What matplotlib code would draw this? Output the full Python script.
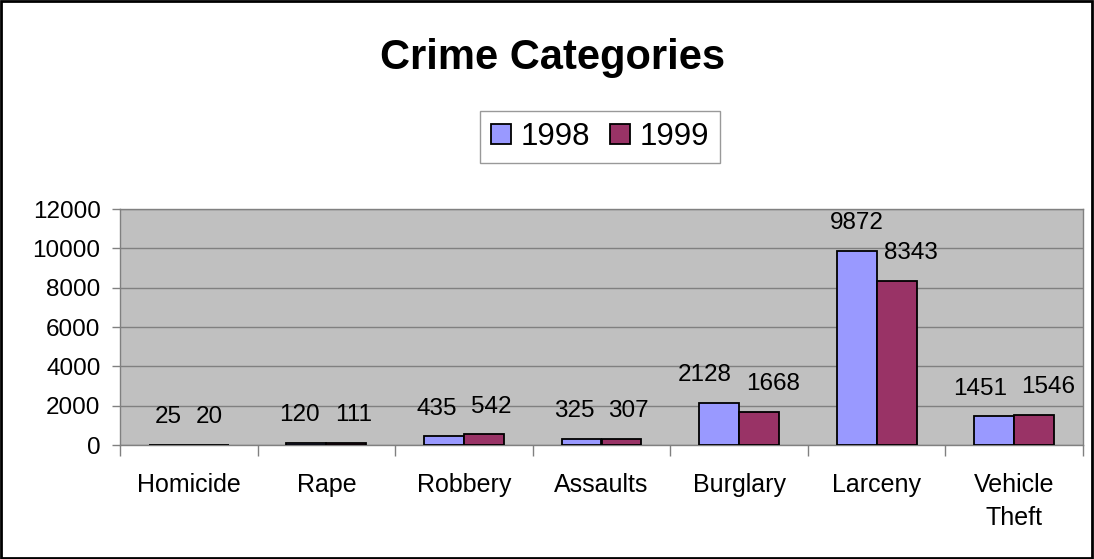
import numpy as np
import matplotlib.pyplot as plt
from matplotlib.patches import Rectangle

plt.rcParams['font.family'] = ['Liberation Sans', 'DejaVu Sans']

# Данные
categories = ['Homicide', 'Rape', 'Robbery', 'Assaults', 'Burglary', 'Larceny', 'Vehicle\nTheft']
values_1998 = [25, 120, 435, 325, 2128, 9872, 1451]
values_1999 = [20, 111, 542, 307, 1668, 8343, 1546]
series_labels = ['1998', '1999']
yticks = [0, 2000, 4000, 6000, 8000, 10000, 12000]

W, H = 1094, 559
fig = plt.figure(figsize=[W/100, H/100], dpi=100)
left, right, top, bottom = 120, 1083, 209, 445
ax = fig.add_axes([left/W, 1 - bottom/H, (right - left)/W, (bottom - top)/H])
ax.set_facecolor('#C0C0C0')

x = np.arange(len(categories))
w = 0.29
b1 = ax.bar(x - w/2, values_1998, w, color='#9999FF', edgecolor='black', lw=1.3,
            label=series_labels[0], zorder=3)
b2 = ax.bar(x + w/2, values_1999, w, color='#993366', edgecolor='black', lw=1.3,
            label=series_labels[1], zorder=3)

# Подписи значений: раздвигаем, если не помещаются над столбиком
fs = 17.5
fs_px = fs * 100 / 72
bar_half_px = w * (right - left) / len(categories) / 2
px_per_unit = (bottom - top) / 12000
for i in range(len(categories)):
    v1, v2 = values_1998[i], values_1999[i]
    near = abs(v1 - v2) * px_per_unit < fs_px
    for v, sign, xc in ((v1, -1, x[i] - w/2), (v2, 1, x[i] + w/2)):
        half_txt = len(str(v)) * 0.556 * fs_px / 2
        shift = max(0.0, half_txt - bar_half_px + 7)
        lower = v == min(v1, v2)
        if not near and not lower:
            shift = 0.0
        ax.annotate(str(v), (xc, v), xytext=(sign * shift * 0.72, 20),
                    textcoords='offset points', ha='center', va='center',
                    fontsize=fs, zorder=4)

ax.set_xlim(-0.5, len(categories) - 0.5)
ax.set_ylim(0, 12000)
ax.set_yticks(yticks)
ax.tick_params(axis='y', direction='out', length=6, width=1, color='#808080',
               labelsize=17.5, pad=8)
ax.set_xticks(np.arange(len(categories) + 1) - 0.5)
ax.set_xticklabels([])
ax.set_xticks(x, minor=True)
ax.set_xticklabels(categories, minor=True, fontsize=18, linespacing=1.5)
ax.tick_params(axis='x', which='major', direction='out', length=8, width=1, color='#808080')
ax.tick_params(axis='x', which='minor', length=0, pad=20)
ax.grid(axis='y', color='#808080', lw=1, zorder=1)
ax.set_axisbelow(True)
for s in ax.spines.values():
    s.set_color('#808080')
    s.set_linewidth(1)

fig.text(553/W, 1 - 58/H, 'Crime Categories', ha='center', va='center',
         fontsize=30, fontweight='bold')

leg = fig.legend(handles=[b1, b2], loc='center', bbox_to_anchor=(600/W, 1 - 137/H),
                 ncol=2, fontsize=22.5, frameon=True, fancybox=False,
                 handlelength=0.65, handleheight=0.65, handletextpad=0.3,
                 columnspacing=0.65, borderpad=0.35, borderaxespad=0)
leg.get_frame().set_edgecolor('#808080')
leg.get_frame().set_linewidth(1)

fig.patches.append(Rectangle((0.001, 0.001), 0.997, 0.997, transform=fig.transFigure,
                             fill=False, edgecolor='black', lw=2))

fig.savefig('out.png', dpi=100)
